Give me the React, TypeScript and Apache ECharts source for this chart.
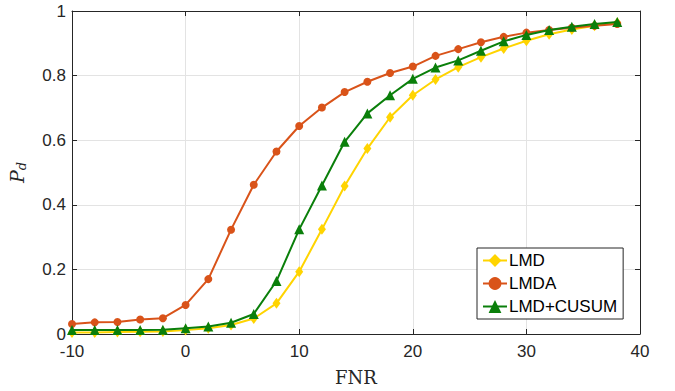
import React, { useEffect, useRef } from "react";
import * as echarts from "echarts";

const fnr = [-10, -8, -6, -4, -2, 0, 2, 4, 6, 8, 10, 12, 14, 16, 18, 20, 22, 24, 26, 28, 30, 32, 34, 36, 38];
const lmd = [0.005, 0.005, 0.006, 0.007, 0.008, 0.012, 0.018, 0.028, 0.048, 0.095, 0.193, 0.324, 0.458, 0.574, 0.671, 0.739, 0.788, 0.826, 0.857, 0.884, 0.908, 0.928, 0.943, 0.954, 0.964];
const lmda = [0.031, 0.036, 0.037, 0.045, 0.049, 0.09, 0.17, 0.323, 0.462, 0.565, 0.644, 0.701, 0.749, 0.781, 0.808, 0.828, 0.861, 0.882, 0.903, 0.92, 0.933, 0.941, 0.948, 0.954, 0.96];
const cusum = [0.012, 0.012, 0.012, 0.012, 0.013, 0.018, 0.023, 0.035, 0.062, 0.164, 0.324, 0.46, 0.595, 0.683, 0.739, 0.79, 0.825, 0.847, 0.877, 0.906, 0.926, 0.941, 0.951, 0.96, 0.966];
const seriesNames = ["LMD", "LMDA", "LMD+CUSUM"];
const colors = ["#FFD400", "#D95319", "#0A7F0A"];

export default function App() {
  const ref = useRef<HTMLDivElement>(null);
  useEffect(() => {
    const chart = echarts.init(ref.current!, null, { renderer: "svg" });
    const axisColor = "#262626";
    const labelFont = { fontFamily: "Liberation Sans, Arial, sans-serif", fontSize: 17, color: "#262626" };
    const mk = (vals: number[]) => fnr.map((x, i) => [x, vals[i]]);
    const tick = { show: true, inside: true, length: 5, lineStyle: { color: axisColor } };
    const line = { show: true, onZero: false, lineStyle: { color: axisColor } };
    const serif = "DejaVu Serif, Liberation Serif, serif";
    chart.setOption({
      animation: false,
      grid: { left: 72, right: 35, top: 11, bottom: 57, containLabel: false, outerBoundsMode: "none" },
      legend: {
        orient: "vertical",
        left: 477,
        top: 248,
        width: 146,
        backgroundColor: "#fff",
        borderColor: axisColor,
        borderWidth: 1,
        padding: [4, 6, 4, 5],
        itemGap: 6,
        itemWidth: 24,
        itemHeight: 16,
        textStyle: { ...labelFont, fontSize: 17, color: "#000", padding: [0, 0, 0, -3] },
        data: seriesNames,
      },
      xAxis: [
        {
          type: "value", min: -10, max: 40, interval: 10,
          name: "FNR", nameLocation: "middle", nameGap: 34,
          nameTextStyle: { fontFamily: serif, fontSize: 18, color: "#262626" },
          axisLine: line,
          axisTick: tick,
          axisLabel: { ...labelFont, margin: 9 },
          splitLine: { show: true, lineStyle: { color: "#E3E3E3" } },
        },
        {
          type: "value", min: -10, max: 40, interval: 10, position: "top",
          axisLine: line,
          axisTick: tick,
          axisLabel: { show: false },
          splitLine: { show: false },
        },
      ],
      yAxis: [
        {
          type: "value", min: 0, max: 1, interval: 0.2,
          name: "{i|P}{s|d}", nameLocation: "middle", nameGap: 44,
          nameTextStyle: {
            rich: {
              i: { fontFamily: serif, fontStyle: "italic", fontSize: 19, color: "#262626" },
              s: { fontFamily: serif, fontStyle: "italic", fontSize: 13, color: "#262626", verticalAlign: "bottom", padding: [9, 0, 0, 0] },
            },
          },
          axisLine: line,
          axisTick: tick,
          axisLabel: { ...labelFont, margin: 6 },
          splitLine: { show: true, lineStyle: { color: "#E3E3E3" } },
        },
        {
          type: "value", min: 0, max: 1, interval: 0.2, position: "right",
          axisLine: line,
          axisTick: tick,
          axisLabel: { show: false },
          splitLine: { show: false },
        },
      ],
      series: [
        { name: seriesNames[0], type: "line", data: mk(lmd), symbol: "diamond", symbolSize: [8, 11], color: colors[0], lineStyle: { width: 2 }, z: 2 },
        { name: seriesNames[1], type: "line", data: mk(lmda), symbol: "circle", symbolSize: 8, color: colors[1], lineStyle: { width: 2 }, z: 3 },
        { name: seriesNames[2], type: "line", data: mk(cusum), symbol: "triangle", symbolSize: 10, color: colors[2], lineStyle: { width: 2 }, z: 4 },
      ],
    });
    return () => chart.dispose();
  }, []);
  return <div ref={ref} style={{ width: 675, height: 391, position: "absolute", left: 0, top: 0 }} />;
}
